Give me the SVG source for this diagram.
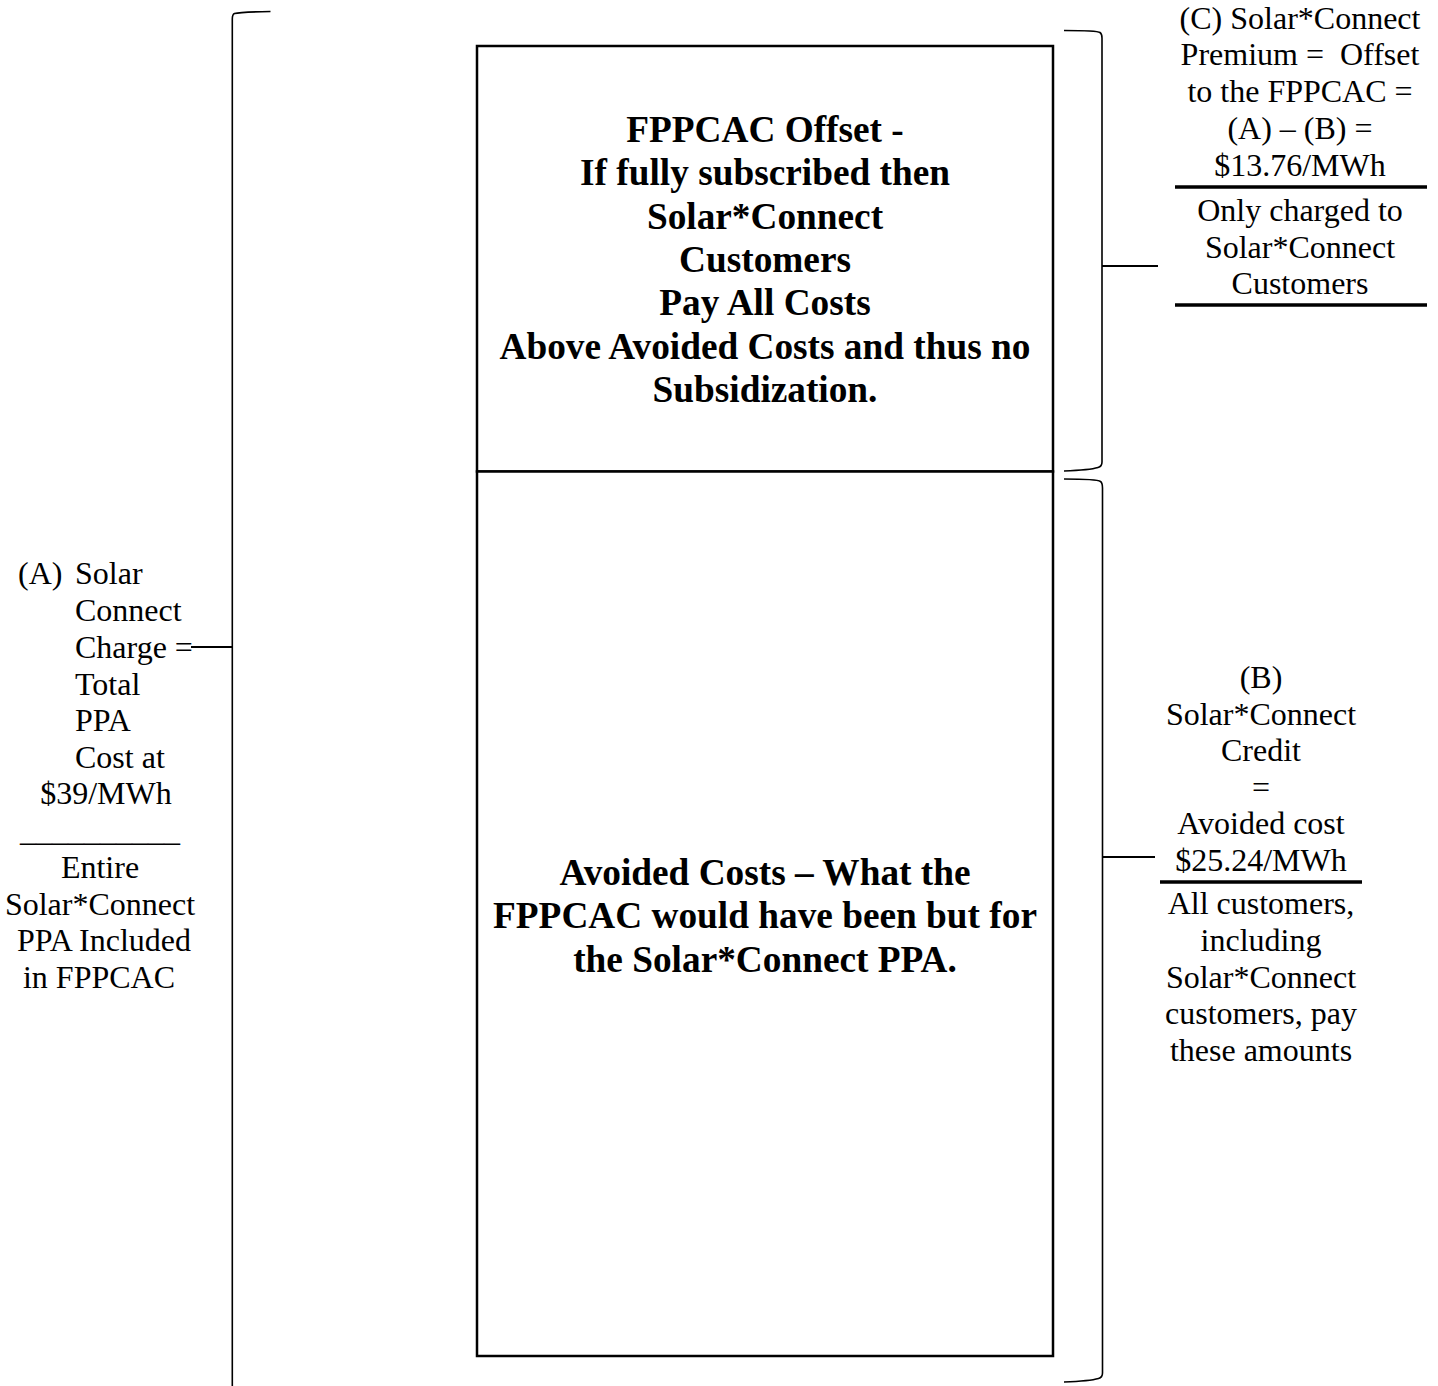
<svg xmlns="http://www.w3.org/2000/svg" width="1438" height="1386" viewBox="0 0 1438 1386">
<style>
.t{font-family:"Liberation Serif","Times New Roman",serif;font-size:32px;fill:#000}
.b{font-family:"Liberation Serif","Times New Roman",serif;font-size:37.3px;font-weight:bold;fill:#000}
.c{text-anchor:middle}
.box{fill:#fff;stroke:#000;stroke-width:2.5}
.br{fill:none;stroke:#000;stroke-width:1.6}
.tick{stroke:#000;stroke-width:2}
.rule{stroke:#000;stroke-width:3.5}
</style>
<rect width="1438" height="1386" fill="#fff"/>
<g id="connectors">
<path class="br" d="M270.5,11.5 Q240,12 234.5,13.5 Q232.3,14.5 232.3,19 V1386"/>
<line class="tick" x1="191" y1="647" x2="232" y2="647"/>
<path class="br" d="M1064,30.5 Q1097,30.5 1100,32.5 Q1102,34 1102,38 V462 Q1102,466.5 1098,467.5 Q1090,470 1064,471"/>
<line class="tick" x1="1102" y1="266" x2="1158" y2="266"/>
<path class="br" d="M1064,479 Q1097,479 1100.5,481.5 Q1102.5,483 1102.5,488 V1373 Q1102.5,1377.5 1098.5,1378.5 Q1090,1381 1064,1382"/>
<line class="tick" x1="1102" y1="857" x2="1155" y2="857"/>
</g>
<g id="box-offset">
<rect class="box" x="477" y="46" width="576" height="425.5"/>
<text class="b c" x="765"><tspan x="765" y="142">FPPCAC Offset -</tspan><tspan x="765" y="185.3">If fully subscribed then</tspan><tspan x="765" y="228.6">Solar*Connect</tspan><tspan x="765" y="271.9">Customers</tspan><tspan x="765" y="315.2">Pay All Costs</tspan><tspan x="765" y="358.5">Above Avoided Costs and thus no</tspan><tspan x="765" y="401.8">Subsidization.</tspan></text>
</g>
<g id="box-avoided">
<rect class="box" x="477" y="471.5" width="576" height="884.5"/>
<text class="b c" x="765"><tspan x="765" y="885">Avoided Costs – What the</tspan><tspan x="765" y="928.3">FPPCAC would have been but for</tspan><tspan x="765" y="971.6">the Solar*Connect PPA.</tspan></text>
</g>
<g id="label-a">
<text class="t" x="18" y="584">(A)</text>
<text class="t"><tspan x="75" y="584">Solar</tspan><tspan x="75" y="621">Connect</tspan><tspan x="75" y="658">Charge =</tspan><tspan x="75" y="694.5">Total</tspan><tspan x="75" y="731">PPA</tspan><tspan x="75" y="768">Cost at</tspan></text>
<text class="t c"><tspan x="106" y="804">$39/MWh</tspan><tspan x="100" y="841">__________</tspan><tspan x="100" y="878">Entire</tspan><tspan x="100" y="914.5">Solar*Connect</tspan><tspan x="104" y="951">PPA Included</tspan><tspan x="99" y="988">in FPPCAC</tspan></text>
</g>
<g id="label-c">
<text class="t c"><tspan x="1300" y="28.5">(C) Solar*Connect</tspan><tspan x="1300" y="65.3">Premium =&#160; Offset</tspan><tspan x="1300" y="102">to the FPPCAC =</tspan><tspan x="1300" y="138.8">(A) – (B) =</tspan><tspan x="1300" y="175.6">$13.76/MWh</tspan></text>
<line class="rule" x1="1175" y1="187" x2="1427" y2="187"/>
<text class="t c"><tspan x="1300" y="221">Only charged to</tspan><tspan x="1300" y="257.5">Solar*Connect</tspan><tspan x="1300" y="294">Customers</tspan></text>
<line class="rule" x1="1175" y1="305" x2="1427" y2="305"/>
</g>
<g id="label-b">
<text class="t c"><tspan x="1261" y="688">(B)</tspan><tspan x="1261" y="724.5">Solar*Connect</tspan><tspan x="1261" y="761">Credit</tspan><tspan x="1261" y="797.5">=</tspan><tspan x="1261" y="834">Avoided cost</tspan><tspan x="1261" y="870.5">$25.24/MWh</tspan></text>
<line class="rule" x1="1160" y1="882" x2="1362" y2="882"/>
<text class="t c"><tspan x="1261" y="914">All customers,</tspan><tspan x="1261" y="951">including</tspan><tspan x="1261" y="987.5">Solar*Connect</tspan><tspan x="1261" y="1024">customers, pay</tspan><tspan x="1261" y="1060.5">these amounts</tspan></text>
</g>
</svg>
